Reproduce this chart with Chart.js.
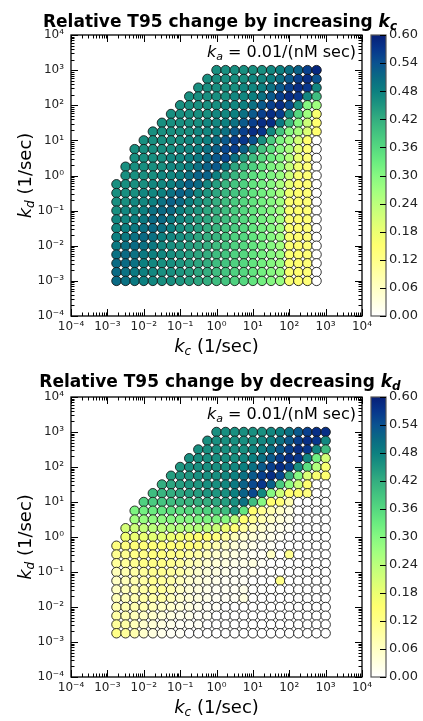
<!DOCTYPE html>
<html>
<head>
<meta charset="utf-8">
<script src="https://cdn.jsdelivr.net/npm/chart.js@4.4.1/dist/chart.umd.min.js"></script>
<style>
html, body { margin: 0; padding: 0; background: #fff; }
#wrap { position: relative; width: 423px; height: 721px; }
#wrap canvas { position: absolute; left: 0; }
</style>
</head>
<body>
<div id="wrap">
  <canvas id="topChart" width="423" height="360" style="top:0px"></canvas>
  <canvas id="bottomChart" width="423" height="361" style="top:360px"></canvas>
</div>
<script>
// grid exponents (log10 of rate constants)
const kcExpTop = [-2.75, -2.5, -2.25, -2, -1.75, -1.5, -1.25, -1, -0.75, -0.5, -0.25, 0,
                  0.25, 0.5, 0.75, 1, 1.25, 1.5, 1.75, 2, 2.25, 2.5, 2.75];
const kdExpTop = [3, 2.75, 2.5, 2.25, 2, 1.75, 1.5, 1.25, 1, 0.75, 0.5, 0.25, 0,
                  -0.25, -0.5, -0.75, -1, -1.25, -1.5, -1.75, -2, -2.25, -2.5, -2.75, -3];
const kcExpBottom = [-2.75, -2.5, -2.25, -2, -1.75, -1.5, -1.25, -1, -0.75, -0.5, -0.25, 0,
                     0.25, 0.5, 0.75, 1, 1.25, 1.5, 1.75, 2, 2.25, 2.5, 2.75, 3];
const kdExpBottom = [3, 2.75, 2.5, 2.25, 2, 1.75, 1.5, 1.25, 1, 0.75, 0.5, 0.25, 0,
                     -0.25, -0.5, -0.75, -1, -1.25, -1.5, -1.75, -2, -2.25, -2.5, -2.75];

const _ = null;
// relative T95 change, one row per kd (top to bottom), one column per kc
const changeIncKc = [
  [_,_,_,_,_,_,_,_,_,_,_, .46,.46,.46,.46,.46,.46,.47,.48,.50,.52,.56,.59],
  [_,_,_,_,_,_,_,_,_,_, .46,.46,.46,.46,.46,.47,.47,.48,.50,.53,.56,.58,.54],
  [_,_,_,_,_,_,_,_,_, .46,.46,.46,.46,.46,.47,.47,.48,.50,.53,.56,.58,.57,.47],
  [_,_,_,_,_,_,_,_, .46,.46,.46,.46,.46,.47,.47,.48,.50,.53,.56,.58,.57,.47,.40],
  [_,_,_,_,_,_,_, .46,.46,.46,.46,.46,.47,.47,.48,.50,.53,.56,.58,.55,.46,.30,.27],
  [_,_,_,_,_,_, .46,.46,.46,.46,.46,.47,.47,.48,.50,.53,.56,.58,.56,.46,.36,.27,.16],
  [_,_,_,_,_, .46,.46,.46,.46,.46,.47,.47,.48,.50,.53,.56,.58,.58,.49,.40,.30,.22,.15],
  [_,_,_,_, .46,.46,.46,.46,.46,.47,.47,.48,.50,.53,.56,.58,.57,.47,.39,.30,.26,.20,.15],
  [_,_,_, .46,.46,.46,.46,.46,.47,.47,.48,.50,.53,.56,.57,.54,.46,.38,.31,.27,.21,.15,0],
  [_,_, .46,.46,.46,.46,.46,.47,.47,.48,.50,.52,.55,.56,.52,.45,.39,.35,.30,.26,.19,.14,0],
  [_,_, .46,.46,.46,.46,.47,.47,.48,.49,.51,.53,.55,.50,.44,.40,.36,.33,.30,.25,.18,.14,0],
  [_, .46,.46,.46,.46,.46,.47,.47,.48,.50,.52,.53,.49,.43,.40,.37,.34,.31,.29,.23,.17,.14,0],
  [_, .46,.46,.46,.46,.47,.47,.48,.50,.52,.52,.48,.44,.41,.38,.35,.33,.31,.28,.22,.16,.14,0],
  [.46,.46,.46,.46,.47,.47,.48,.50,.52,.51,.47,.44,.41,.39,.37,.34,.32,.30,.26,.19,.15,.14,0],
  [.46,.46,.46,.47,.47,.48,.50,.52,.51,.47,.45,.43,.41,.39,.37,.34,.32,.30,.26,.17,.15,.14,0],
  [.46,.46,.47,.47,.48,.50,.52,.51,.48,.46,.44,.42,.40,.38,.36,.34,.32,.30,.27,.16,.15,.14,0],
  [.46,.47,.47,.48,.50,.51,.51,.48,.46,.45,.43,.42,.40,.38,.36,.34,.32,.30,.27,.16,.15,.14,0],
  [.47,.47,.48,.49,.51,.51,.49,.47,.46,.44,.43,.41,.40,.38,.36,.34,.32,.30,.27,.16,.15,.14,0],
  [.47,.48,.49,.50,.51,.50,.48,.46,.45,.44,.42,.41,.39,.38,.36,.34,.32,.30,.27,.16,.15,.14,0],
  [.48,.49,.50,.51,.50,.48,.47,.46,.45,.43,.42,.41,.39,.37,.36,.34,.32,.30,.27,.16,.15,.14,0],
  [.49,.50,.51,.50,.49,.47,.46,.45,.44,.43,.42,.40,.39,.37,.36,.34,.32,.30,.27,.16,.15,.14,0],
  [.50,.51,.50,.49,.48,.47,.46,.45,.44,.43,.42,.40,.39,.37,.36,.34,.32,.30,.28,.16,.15,.14,0],
  [.51,.51,.50,.48,.47,.46,.46,.45,.44,.43,.42,.40,.39,.37,.36,.34,.32,.30,.28,.16,.15,.14,0],
  [.51,.50,.49,.48,.47,.46,.46,.45,.44,.43,.42,.40,.39,.37,.36,.34,.32,.30,.28,.16,.15,.14,0],
  [.51,.50,.49,.48,.47,.46,.46,.45,.44,.43,.42,.40,.39,.37,.36,.34,.32,.30,.28,.16,.15,.14,0]
];

const changeDecKd = [
  [_,_,_,_,_,_,_,_,_,_,_, .46,.46,.46,.46,.46,.46,.47,.48,.50,.53,.56,.58,.58],
  [_,_,_,_,_,_,_,_,_,_, .46,.46,.46,.46,.46,.46,.47,.48,.50,.53,.56,.58,.57,.47],
  [_,_,_,_,_,_,_,_,_, .46,.46,.46,.46,.46,.46,.47,.48,.50,.53,.56,.58,.57,.47,.40],
  [_,_,_,_,_,_,_,_, .46,.46,.46,.46,.46,.46,.47,.48,.50,.53,.56,.58,.57,.47,.32,.21],
  [_,_,_,_,_,_,_, .45,.46,.46,.46,.46,.46,.47,.48,.50,.53,.56,.58,.56,.46,.35,.25,.16],
  [_,_,_,_,_,_, .44,.45,.45,.46,.46,.46,.47,.48,.50,.53,.56,.58,.55,.42,.30,.20,.16,.15],
  [_,_,_,_,_, .42,.43,.44,.45,.45,.46,.46,.47,.49,.52,.55,.57,.52,.38,.29,.22,.15,0,0],
  [_,_,_,_, .40,.41,.42,.43,.44,.44,.45,.45,.46,.48,.52,.55,.47,.30,.22,.15,.15,.13,0,0],
  [_,_,_, .37,.38,.39,.40,.41,.41,.42,.42,.43,.44,.46,.50,.40,.30,.15,.14,.08,0,0,0,0],
  [_,_, .31,.32,.33,.34,.35,.35,.36,.36,.37,.38,.40,.45,.34,.15,.11,.08,.06,.03,0,0,0,0],
  [_,_, .27,.28,.29,.29,.30,.30,.30,.31,.31,.31,.30,.24,.15,.11,.08,.06,.04,.02,0,0,0,0],
  [_, .21,.22,.23,.24,.24,.25,.25,.25,.25,.24,.22,.18,.14,.10,.07,.05,.03,.02,.01,0,0,0,0],
  [_, .17,.18,.18,.19,.19,.18,.17,.16,.15,.15,.13,.10,.07,.05,.04,.03,.02,.01,0,0,0,0,0],
  [.13,.13,.14,.14,.14,.14,.14,.14,.14,.13,.10,.08,.06,.04,.03,.02,.01,.01,0,0,0,0,0,0],
  [.11,.11,.12,.12,.13,.13,.12,.12,.10,.09,.07,.05,.04,.03,.02,.01,.01,.06,0,.11,0,0,0,0],
  [.10,.10,.11,.12,.12,.12,.11,.10,.08,.07,.05,.04,.03,.02,.02,.03,.01,0,0,0,0,0,0,0],
  [.07,.08,.09,.10,.11,.11,.10,.09,.07,.05,.04,.03,.02,.01,.01,.01,0,0,0,0,0,0,0,0],
  [.06,.07,.08,.09,.11,.10,.09,.07,.05,.04,.03,.02,.01,.01,.01,0,0,0,.12,0,0,0,0,0],
  [.06,.07,.08,.09,.10,.10,.08,.06,.04,.03,.02,.01,.01,.01,.02,0,0,0,0,0,0,0,0,0],
  [.07,.07,.08,.09,.09,.09,.07,.05,.04,.03,.02,.01,.01,.01,.03,0,0,0,0,0,0,0,0,0],
  [.08,.08,.08,.08,.07,.06,.05,.04,.03,.02,.01,.01,0,0,0,0,0,0,0,0,0,0,0,0],
  [.09,.08,.07,.06,.05,.04,.03,.02,.02,.01,.01,0,0,0,0,0,0,0,0,0,0,0,0,0],
  [.10,.09,.07,.05,.04,.03,.02,.01,.01,.01,0,0,0,0,0,0,0,0,0,0,0,0,0,0],
  [.12,.10,.08,.05,.03,.02,.01,.01,0,0,0,0,0,0,0,0,0,0,0,0,0,0,0,0]
];

const colorbarMin = 0;
const colorbarMax = 0.6;
const colorbarStep = 0.06;

// colour map stops: [value, colour]
const cmapStops = [
  [0.00, '#ffffff'], [0.03, '#ffffe0'], [0.06, '#ffffc4'], [0.09, '#ffffa6'],
  [0.12, '#ffff88'], [0.15, '#ffff70'], [0.18, '#ecff72'], [0.21, '#d4ff78'],
  [0.24, '#bcff7c'], [0.27, '#a0ff80'], [0.30, '#86f882'], [0.33, '#6aec80'],
  [0.36, '#55d880'], [0.39, '#44c480'], [0.42, '#34ae80'], [0.45, '#1e9680'],
  [0.48, '#0c8080'], [0.51, '#0a6a84'], [0.54, '#0a5290'], [0.57, '#07368c'],
  [0.60, '#061f78']
];

const FONT = "'DejaVu Sans', sans-serif";

function hexToRgb(h) {
  return [parseInt(h.slice(1, 3), 16), parseInt(h.slice(3, 5), 16), parseInt(h.slice(5, 7), 16)];
}

function cmap(v) {
  if (v <= cmapStops[0][0]) return cmapStops[0][1];
  for (let i = 1; i < cmapStops.length; i++) {
    if (v <= cmapStops[i][0]) {
      const [v0, c0] = cmapStops[i - 1], [v1, c1] = cmapStops[i];
      const f = (v - v0) / (v1 - v0);
      const a = hexToRgb(c0), b = hexToRgb(c1);
      const c = a.map((x, k) => Math.round(x + (b[k] - x) * f));
      return 'rgb(' + c.join(',') + ')';
    }
  }
  return cmapStops[cmapStops.length - 1][1];
}

const SUP = { '-': '\u207B', '0': '\u2070', '1': '\u00B9', '2': '\u00B2', '3': '\u00B3',
  '4': '\u2074', '5': '\u2075', '6': '\u2076', '7': '\u2077', '8': '\u2078', '9': '\u2079' };

function decadeLabel(value) {
  const e = Math.log10(value);
  if (Math.abs(e - Math.round(e)) > 1e-6) return '';
  return '10' + String(Math.round(e)).split('').map(ch => SUP[ch]).join('');
}

function mantissa(v) {
  const e = Math.floor(Math.log10(v) + 1e-9);
  return v / Math.pow(10, e);
}

function drawRuns(ctx, runs, x, y, align) {
  let w = 0;
  runs.forEach(r => { ctx.font = r.font; w += ctx.measureText(r.text).width; });
  let cx = align === 'center' ? x - w / 2 : (align === 'right' ? x - w : x);
  ctx.textAlign = 'left';
  ctx.textBaseline = 'alphabetic';
  runs.forEach(r => {
    ctx.font = r.font;
    ctx.fillText(r.text, cx, y + (r.dy || 0));
    cx += ctx.measureText(r.text).width;
  });
}

function buildPoints(kcExp, kdExp, rows) {
  const data = [], colors = [];
  rows.forEach((row, i) => {
    row.forEach((v, j) => {
      if (v === null) return;
      data.push({ x: Math.pow(10, kcExp[j]), y: Math.pow(10, kdExp[i]), v: v });
      colors.push(cmap(v));
    });
  });
  return { data, colors };
}

const decorPlugin = {
  id: 'decor',
  afterDraw(chart, args, opts) {
    const ctx = chart.ctx, a = chart.chartArea;
    const xs = chart.scales.x, ys = chart.scales.y, cb = chart.scales.cb;
    ctx.save();

    // frame
    ctx.strokeStyle = '#000';
    ctx.lineWidth = 1.3;
    ctx.strokeRect(a.left, a.top, a.right - a.left, a.bottom - a.top);

    // inward ticks on all four sides
    ctx.lineWidth = 1;
    ctx.beginPath();
    xs.ticks.forEach(t => {
      const m = mantissa(t.value);
      if (Math.abs(m - Math.round(m)) > 1e-6) return;
      const len = Math.abs(m - 1) < 1e-6 ? 7 : 3.5;
      const px = Math.round(xs.getPixelForValue(t.value)) + 0.5;
      ctx.moveTo(px, a.bottom); ctx.lineTo(px, a.bottom - len);
      ctx.moveTo(px, a.top); ctx.lineTo(px, a.top + len);
    });
    ys.ticks.forEach(t => {
      const m = mantissa(t.value);
      if (Math.abs(m - Math.round(m)) > 1e-6) return;
      const len = Math.abs(m - 1) < 1e-6 ? 7 : 3.5;
      const py = Math.round(ys.getPixelForValue(t.value)) + 0.5;
      ctx.moveTo(a.left, py); ctx.lineTo(a.left + len, py);
      ctx.moveTo(a.right, py); ctx.lineTo(a.right - len, py);
    });
    ctx.stroke();

    // colour bar
    const x0 = a.right + 9, x1 = a.right + 24;
    const yTop = cb.getPixelForValue(colorbarMax), yBot = cb.getPixelForValue(colorbarMin);
    const grad = ctx.createLinearGradient(0, yBot, 0, yTop);
    cmapStops.forEach(s => grad.addColorStop((s[0] - colorbarMin) / (colorbarMax - colorbarMin), s[1]));
    ctx.fillStyle = grad;
    ctx.fillRect(x0, yTop, x1 - x0, yBot - yTop);
    ctx.strokeStyle = '#555';
    ctx.lineWidth = 1.2;
    ctx.strokeRect(x0, yTop, x1 - x0, yBot - yTop);
    ctx.strokeStyle = '#000';
    ctx.lineWidth = 1;
    ctx.beginPath();
    cb.ticks.forEach(t => {
      const py = Math.round(cb.getPixelForValue(t.value)) + 0.5;
      ctx.moveTo(x1, py); ctx.lineTo(x1 - 6, py);
    });
    ctx.stroke();

    // texts
    ctx.fillStyle = '#000';
    drawRuns(ctx, opts.title, 220, 27, 'center');
    drawRuns(ctx, [
      { text: 'k', font: 'italic 16px ' + FONT },
      { text: 'a', font: 'italic 11px ' + FONT, dy: 3 },
      { text: ' = 0.01/(nM sec)', font: '16px ' + FONT }
    ], a.right - 6, a.top + 22, 'right');
    drawRuns(ctx, [
      { text: 'k', font: 'italic 18px ' + FONT },
      { text: 'c', font: 'italic 12px ' + FONT, dy: 3 },
      { text: ' (1/sec)', font: '18px ' + FONT }
    ], (a.left + a.right) / 2, a.bottom + 36, 'center');
    ctx.translate(31, (a.top + a.bottom) / 2);
    ctx.rotate(-Math.PI / 2);
    drawRuns(ctx, [
      { text: 'k', font: 'italic 18px ' + FONT },
      { text: 'd', font: 'italic 12px ' + FONT, dy: 3 },
      { text: ' (1/sec)', font: '18px ' + FONT }
    ], 0, 0, 'center');
    ctx.restore();
  }
};

function makeChart(id, kcExp, kdExp, rows, title, padTop) {
  const pts = buildPoints(kcExp, kdExp, rows);
  const tickFont = { family: FONT, size: 12 };
  return new Chart(document.getElementById(id), {
    type: 'scatter',
    data: {
      datasets: [{
        data: pts.data,
        backgroundColor: pts.colors,
        pointBackgroundColor: pts.colors,
        pointBorderColor: 'rgba(20,20,20,0.95)',
        pointBorderWidth: 0.9,
        pointRadius: 4.75,
        pointHoverRadius: 4.75
      }]
    },
    options: {
      responsive: false,
      animation: false,
      events: [],
      layout: { padding: { top: padTop, left: 0, right: 0, bottom: 0 } },
      plugins: {
        legend: { display: false },
        tooltip: { enabled: false },
        decor: { title: title }
      },
      scales: {
        x: {
          type: 'logarithmic',
          min: 1e-4, max: 1e4,
          grid: { display: false, drawTicks: false },
          border: { display: false },
          ticks: {
            autoSkip: false, maxRotation: 0, minRotation: 0,
            padding: 4, color: '#222', font: tickFont,
            callback: decadeLabel
          },
          afterFit: s => { s.height = 44; }
        },
        y: {
          type: 'logarithmic',
          min: 1e-4, max: 1e4,
          grid: { display: false, drawTicks: false },
          border: { display: false },
          ticks: {
            autoSkip: false, padding: 7, color: '#222', font: tickFont,
            callback: decadeLabel
          },
          afterFit: s => { s.width = 71; }
        },
        cb: {
          type: 'linear',
          axis: 'y',
          position: 'right',
          min: colorbarMin, max: colorbarMax,
          grid: { display: false, drawTicks: false },
          border: { display: false },
          ticks: {
            stepSize: colorbarStep, padding: 27, color: '#222',
            font: { family: FONT, size: 13 },
            callback: v => v.toFixed(2)
          },
          afterFit: s => { s.width = 61; }
        }
      }
    },
    plugins: [decorPlugin]
  });
}

makeChart('topChart', kcExpTop, kdExpTop, changeIncKc, [
  { text: 'Relative T95 change by increasing ', font: 'bold 17px ' + FONT },
  { text: 'k', font: 'italic bold 17px ' + FONT },
  { text: 'c', font: 'italic bold 12px ' + FONT, dy: 3 }
], 35);

makeChart('bottomChart', kcExpBottom, kdExpBottom, changeDecKd, [
  { text: 'Relative T95 change by decreasing ', font: 'bold 17px ' + FONT },
  { text: 'k', font: 'italic bold 17px ' + FONT },
  { text: 'd', font: 'italic bold 12px ' + FONT, dy: 3 }
], 37);
</script>
</body>
</html>
